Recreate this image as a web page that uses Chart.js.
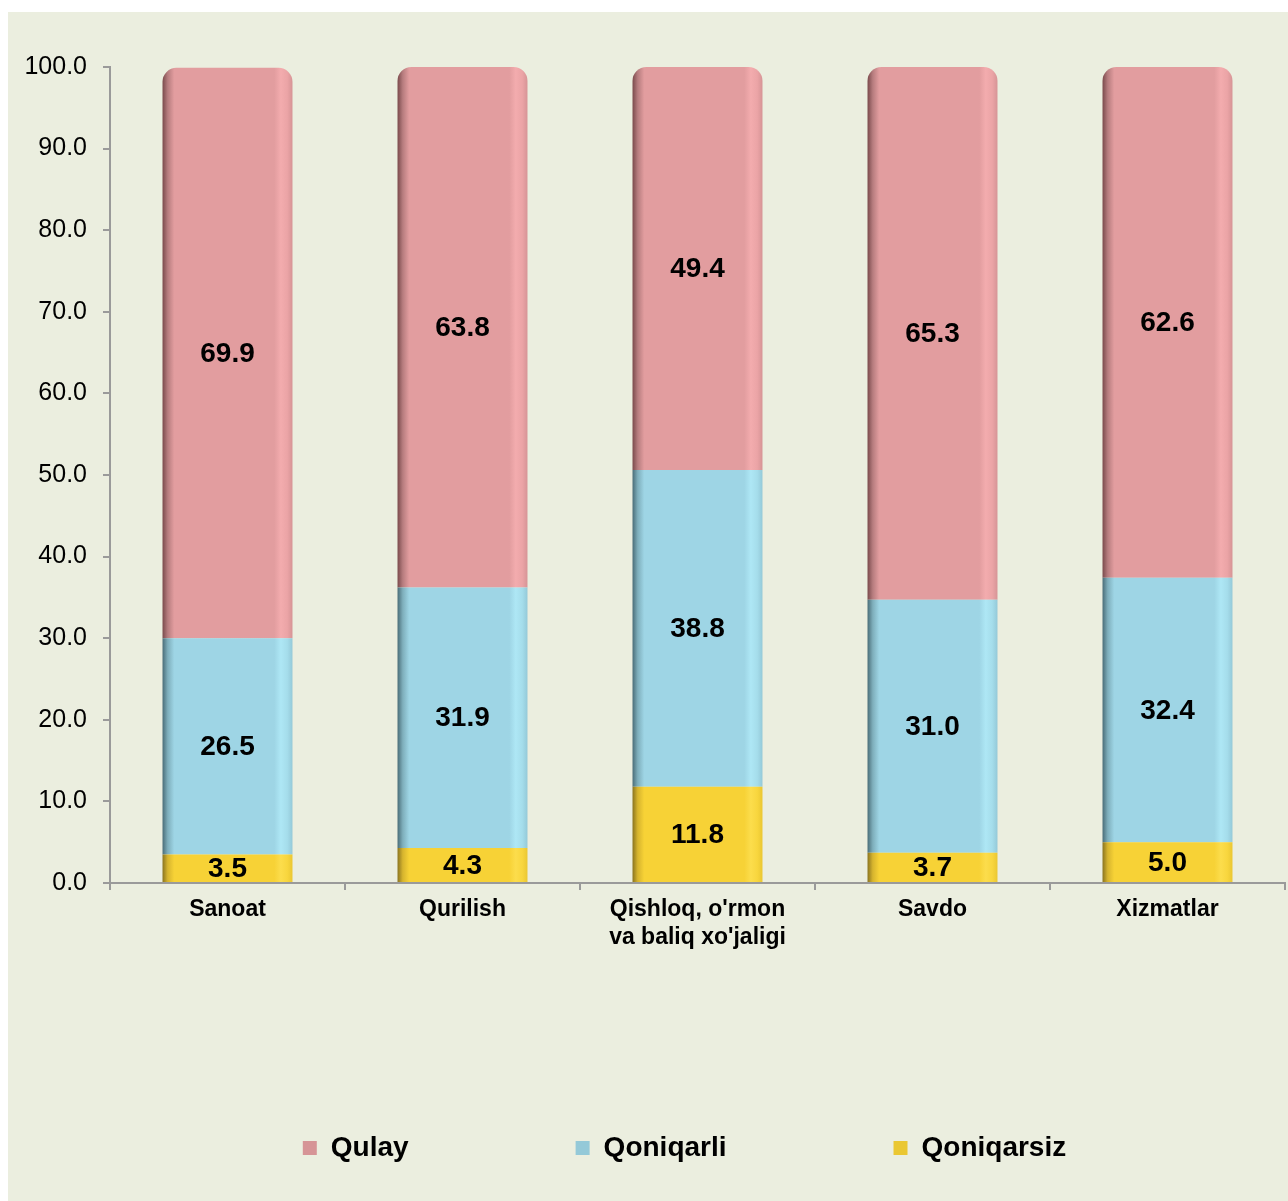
<!DOCTYPE html>
<html>
<head>
<meta charset="utf-8">
<script src="https://cdn.jsdelivr.net/npm/chart.js@4"></script>
<style>
  body { margin: 0; background: #fff; }
  #box { position: absolute; left: 8px; top: 12px; width: 1280px; height: 1189px; background: #EBEEDF; }
</style>
</head>
<body>
<div id="box"><canvas id="chart"></canvas></div>
<script>
// categories (x axis)
var categories = ['Sanoat', 'Qurilish', ["Qishloq, o'rmon", "va baliq xo'jaligi"], 'Savdo', 'Xizmatlar'];
// series, bottom to top
var qoniqarsiz = [3.5, 4.3, 11.8, 3.7, 5.0];
var qoniqarli = [26.5, 31.9, 38.8, 31.0, 32.4];
var qulay = [69.9, 63.8, 49.4, 65.3, 62.6];
var yTicks = [0, 10, 20, 30, 40, 50, 60, 70, 80, 90, 100];

var FONT = '"Liberation Sans", Arial, sans-serif';
var barPct = 0.553;

// horizontal shading across each bar, to mimic the bevelled look
function shade(base, stops) {
    return function (c) {
        if (c.type !== 'data' || !c.chart.chartArea) return base;
        var xs = c.chart.scales.x;
        var cx = xs.getPixelForValue(c.dataIndex);
        var w = xs.width / categories.length * barPct;
        var g = c.chart.ctx.createLinearGradient(cx - w / 2, 0, cx + w / 2, 0);
        g.addColorStop(0, stops[0]);
        g.addColorStop(0.04, stops[1]);
        g.addColorStop(0.09, base);
        g.addColorStop(0.86, base);
        g.addColorStop(0.91, stops[2]);
        g.addColorStop(0.96, stops[3]);
        g.addColorStop(1, stops[4]);
        return g;
    };
}

var valueLabels = {
    id: 'valueLabels',
    afterDatasetsDraw: function (chart) {
        var ctx = chart.ctx;
        ctx.save();
        ctx.font = 'bold 28px ' + FONT;
        ctx.fillStyle = '#000';
        ctx.textAlign = 'center';
        ctx.textBaseline = 'middle';
        chart.data.datasets.forEach(function (ds, i) {
            chart.getDatasetMeta(i).data.forEach(function (bar, j) {
                ctx.fillText(ds.data[j].toFixed(1), bar.x, (bar.y + bar.base) / 2 + 1);
            });
        });
        ctx.restore();
    }
};

// legend sits a bit right of centre in the original
var legendShift = {
    id: 'legendShift',
    afterLayout: function (chart) {
        chart.legend.left += 38;
        chart.legend.right += 38;
    }
};

new Chart(document.getElementById('chart'), {
    type: 'bar',
    data: {
        labels: categories,
        datasets: [{
            label: 'Qoniqarsiz',
            data: qoniqarsiz,
            backgroundColor: shade('#F7D236', ['#8a7420', '#d6b42e', '#FCDD4C', '#F8D63E', '#EAC732'])
        }, {
            label: 'Qoniqarli',
            data: qoniqarli,
            backgroundColor: shade('#9ED5E5', ['#4a6d78', '#7eaebb', '#AEE7F5', '#A5DDEB', '#94C9D8'])
        }, {
            label: 'Qulay',
            data: qulay,
            borderRadius: { topLeft: 14, topRight: 14, bottomLeft: 0, bottomRight: 0 },
            borderSkipped: 'start',
            backgroundColor: shade('#E29D9F', ['#7a4a4c', '#b67c7e', '#F3ACAE', '#EBA4A6', '#D69496'])
        }]
    },
    options: {
        responsive: true,
        maintainAspectRatio: false,
        animation: false,
        datasets: { bar: { barPercentage: barPct, categoryPercentage: 1 } },
        layout: { padding: { top: 55, right: 3, bottom: 29, left: 0 } },
        scales: {
            x: {
                stacked: true,
                afterFit: function (s) { s.height = 84; },
                border: { color: '#9a9a9a', width: 2 },
                grid: { drawOnChartArea: false, drawTicks: true, tickLength: 7, color: '#9a9a9a', lineWidth: 2 },
                ticks: { color: '#000', padding: 6, font: { family: FONT, size: 23, weight: 'bold', lineHeight: 1.2 } }
            },
            y: {
                stacked: true,
                min: 0,
                max: 100,
                afterFit: function (s) { s.width = 102; },
                afterBuildTicks: function (s) { s.ticks = yTicks.map(function (v) { return { value: v }; }); },
                border: { color: '#9a9a9a', width: 2 },
                grid: { drawOnChartArea: false, drawTicks: true, tickLength: 7, color: '#9a9a9a', lineWidth: 2 },
                ticks: {
                    color: '#000',
                    padding: 16,
                    font: { family: FONT, size: 25 },
                    callback: function (v) { return Number(v).toFixed(1); }
                }
            }
        },
        plugins: {
            tooltip: { enabled: false },
            legend: {
                position: 'bottom',
                reverse: true,
                labels: {
                    boxWidth: 14,
                    boxHeight: 14,
                    padding: 167,
                    color: '#000',
                    font: { family: FONT, size: 28, weight: 'bold' }
                }
            }
        }
    },
    plugins: [valueLabels, legendShift]
});
</script>
</body>
</html>
